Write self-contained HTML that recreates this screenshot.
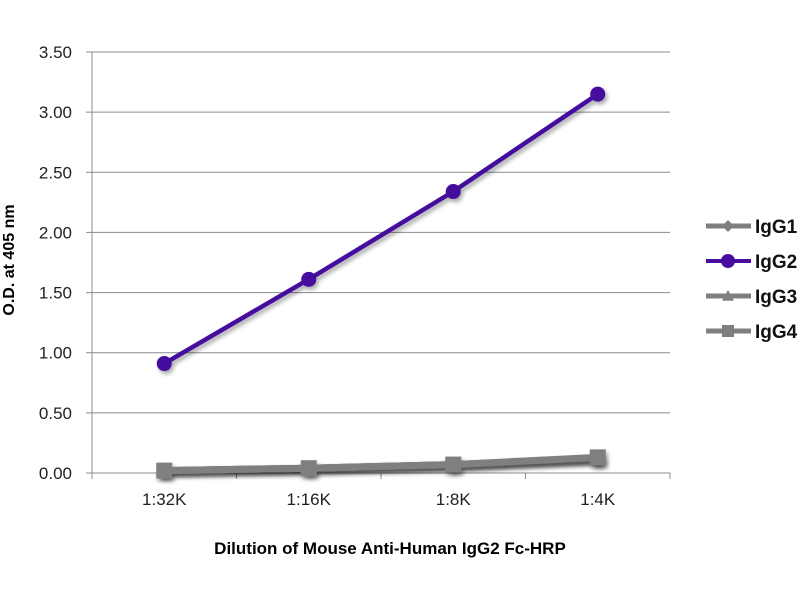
<!DOCTYPE html>
<html><head><meta charset="utf-8"><style>
body{margin:0;background:#fff;}
svg{display:block;font-family:"Liberation Sans",sans-serif;}
</style></head><body>
<svg id="chart" width="800" height="600">
<defs>
<filter id="sh" x="-20%" y="-20%" width="140%" height="140%"><feDropShadow dx="2" dy="3" stdDeviation="2" flood-color="#000" flood-opacity="0.35"/></filter>
</defs>
<g id="grid"></g><g id="axes"></g><g id="series"></g><g id="legend"></g>
<text x="14" y="260" transform="rotate(-90 14 260)" text-anchor="middle" font-weight="bold" font-size="16">O.D. at 405 nm</text>
<text x="390" y="554" text-anchor="middle" font-weight="bold" font-size="17">Dilution of Mouse Anti-Human IgG2 Fc-HRP</text>
</svg>
<script>
const categories=["1:32K","1:16K","1:8K","1:4K"];
const yTicks=[0,0.5,1,1.5,2,2.5,3,3.5];
const yTickLabels=["0.00","0.50","1.00","1.50","2.00","2.50","3.00","3.50"];
const seriesNames=["IgG1","IgG2","IgG3","IgG4"];
const igg1=[0.02,0.04,0.07,0.12];
const igg2=[0.91,1.61,2.34,3.15];
const igg3=[0.02,0.04,0.07,0.12];
const igg4=[0.02,0.04,0.07,0.13];

const NS="http://www.w3.org/2000/svg";
const L=92,R=670,T=52,B=473,ymax=3.5;
const bw=(R-L)/categories.length;
const xS=i=>L+bw*(i+0.5);
const yS=v=>B-(v/ymax)*(B-T);
function mk(tag,a,p){const e=document.createElementNS(NS,tag);for(const k in a)e.setAttribute(k,a[k]);p.appendChild(e);return e;}
const grid=document.getElementById('grid'),axes=document.getElementById('axes'),ser=document.getElementById('series'),leg=document.getElementById('legend');
yTicks.forEach((v,i)=>{
  if(v>0){const g=mk('line',{x1:L,x2:R,y1:yS(v),y2:yS(v),stroke:'#8c8c8c','stroke-width':1},grid);
  
  }
  const tk=mk('line',{x1:L-6,x2:L,y1:yS(v),y2:yS(v),stroke:'#8c8c8c'},axes);
  
  
  const t=mk('text',{x:72,y:yS(v)+6,'text-anchor':'end','font-size':17,fill:'#222'},axes);
  t.textContent=yTickLabels[i];
  
  
});
mk('line',{x1:L,x2:L,y1:T,y2:B,stroke:'#8c8c8c'},axes);
mk('line',{x1:L,x2:R,y1:B,y2:B,stroke:'#8c8c8c'},axes);
for(let i=0;i<=categories.length;i++){const tk=mk('line',{x1:L+bw*i,x2:L+bw*i,y1:B,y2:B+6,stroke:'#8c8c8c'},axes);
  
  }
categories.forEach((c,i)=>{const t=mk('text',{x:xS(i),y:B+32,'text-anchor':'middle','font-size':17,fill:'#222'},axes);t.textContent=c;
  
  });
const gray='#7f7f7f',purple='#450c9e';
function marker(shape,x,y,col,g,s){
  if(shape==='circle')return mk('circle',{cx:x,cy:y,r:s,fill:col},g);
  if(shape==='square')return mk('rect',{x:x-s,y:y-s,width:2*s,height:2*s,fill:col},g);
  if(shape==='diamond')return mk('polygon',{points:`${x},${y-s} ${x+s},${y} ${x},${y+s} ${x-s},${y}`,fill:col},g);
  return mk('polygon',{points:`${x},${y-s} ${x+s},${y+s*0.8} ${x-s},${y+s*0.8}`,fill:col},g);
}
const defs=[[igg1,gray,'diamond',8],[igg3,gray,'triangle',8],[igg4,gray,'square',8],[igg2,purple,'circle',7.5]];
const lw={diamond:7,triangle:7,square:7,circle:4.5};
defs.forEach(([d,col,shape,s])=>{
  const g=mk('g',{filter:'url(#sh)'},ser);
  
  
  mk('polyline',{points:d.map((v,i)=>xS(i)+','+yS(v)).join(' '),fill:'none',stroke:col,'stroke-width':lw[shape]},g);
  d.forEach((v,i)=>{const m=marker(shape,xS(i),yS(v),col,g,s);
    
    });
});
const legDefs=[[gray,'diamond'],[purple,'circle'],[gray,'triangle'],[gray,'square']];
seriesNames.forEach((n,i)=>{
  const y=226+i*35;const [col,shape]=legDefs[i];
  const g=mk('g',{},leg);
  
  
  mk('line',{x1:706,x2:751,y1:y,y2:y,stroke:col,'stroke-width':shape==='circle'?4:5},g);
  marker(shape,728,y,col,g,shape==='circle'?7:6);
  const t=mk('text',{x:755,y:y+7,'font-size':19,'font-weight':'bold',fill:'#111'},g);t.textContent=n;
});
</script>
</body></html>
